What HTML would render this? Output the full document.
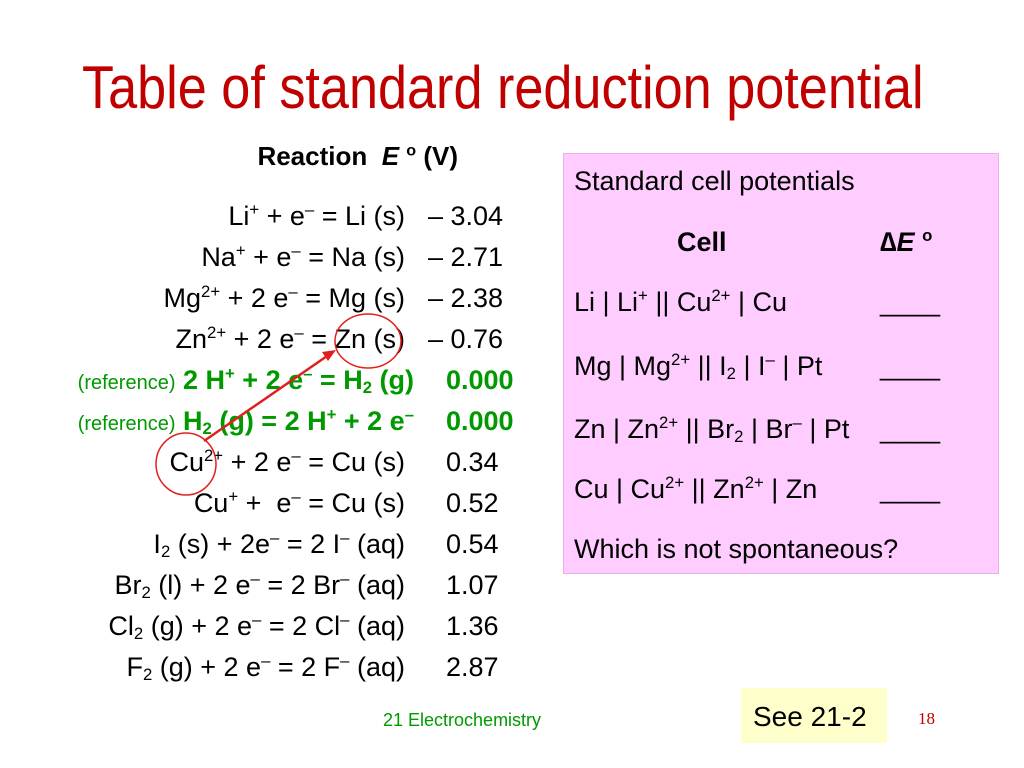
<!DOCTYPE html>
<html><head><meta charset="utf-8"><style>
body{margin:0;width:1024px;height:768px;background:#fff;position:relative;overflow:hidden;font-family:"Liberation Sans",sans-serif}
.a{position:absolute;white-space:nowrap;line-height:1}
.r{transform:scaleX(1.0);transform-origin:right center;text-align:right}
.l{transform:scaleX(1.0);transform-origin:left center}
sup{font-size:62%;vertical-align:0.6em;line-height:0}
sub{font-size:62%;vertical-align:-0.25em;line-height:0}
.row{font-size:27px;color:#000}
.g{color:#009900;font-weight:bold}
.ref{font-size:20px;color:#009900;font-weight:normal}
.bx{font-size:27px}
</style></head><body>
<div class="a" style="left:82px;top:58px;font-size:60px;color:#c00000;transform:scaleX(.87);transform-origin:left center">Table of standard reduction potential</div>
<div class="a r" style="right:566px;top:143px;font-size:26px;font-weight:bold">Reaction&nbsp; <i>E</i> <sup>o</sup> (V)</div>

<div>
<div class="a r row" style="right:619px;top:203px">Li<sup>+</sup> + e<sup>–</sup> = Li (s)</div><div class="a l row" style="left:428px;top:203px">– 3.04</div>
<div class="a r row" style="right:619px;top:244px">Na<sup>+</sup> + e<sup>–</sup> = Na (s)</div><div class="a l row" style="left:428px;top:244px">– 2.71</div>
<div class="a r row" style="right:619px;top:285px">Mg<sup>2+</sup> + 2 e<sup>–</sup> = Mg (s)</div><div class="a l row" style="left:428px;top:285px">– 2.38</div>
<div class="a r row" style="right:619px;top:326px">Zn<sup>2+</sup> + 2 e<sup>–</sup> = Zn (s)</div><div class="a l row" style="left:428px;top:326px">– 0.76</div>
<div class="a r row g" style="right:610px;top:367px"><span class="ref">(reference)</span> 2 H<sup>+</sup> + 2 e<sup>–</sup> = H<sub>2</sub> (g)</div><div class="a l row g" style="left:446px;top:367px">0.000</div>
<div class="a r row g" style="right:610px;top:408px"><span class="ref">(reference)</span> H<sub>2</sub> (g) = 2 H<sup>+</sup> + 2 e<sup>–</sup></div><div class="a l row g" style="left:446px;top:408px">0.000</div>
<div class="a r row" style="right:619px;top:449px">Cu<sup>2+</sup> + 2 e<sup>–</sup> = Cu (s)</div><div class="a l row" style="left:446px;top:449px">0.34</div>
<div class="a r row" style="right:619px;top:490px">Cu<sup>+</sup> +&nbsp; e<sup>–</sup> = Cu (s)</div><div class="a l row" style="left:446px;top:490px">0.52</div>
<div class="a r row" style="right:619px;top:531px">I<sub>2</sub> (s) + 2e<sup>–</sup> = 2 I<sup>–</sup> (aq)</div><div class="a l row" style="left:446px;top:531px">0.54</div>
<div class="a r row" style="right:619px;top:572px">Br<sub>2</sub> (l) + 2 e<sup>–</sup> = 2 Br<sup>–</sup> (aq)</div><div class="a l row" style="left:446px;top:572px">1.07</div>
<div class="a r row" style="right:619px;top:613px">Cl<sub>2</sub> (g) + 2 e<sup>–</sup> = 2 Cl<sup>–</sup> (aq)</div><div class="a l row" style="left:446px;top:613px">1.36</div>
<div class="a r row" style="right:619px;top:654px">F<sub>2</sub> (g) + 2 e<sup>–</sup> = 2 F<sup>–</sup> (aq)</div><div class="a l row" style="left:446px;top:654px">2.87</div>
</div>

<svg class="a" style="left:0;top:0" width="1024" height="768">
<ellipse cx="368" cy="341" rx="33" ry="27" fill="none" stroke="#e02020" stroke-width="1.5"/>
<ellipse cx="186" cy="464" rx="30" ry="31" fill="none" stroke="#e02020" stroke-width="1.5"/>
<line x1="204" y1="441" x2="330" y2="354" stroke="#e02020" stroke-width="2.5"/>
<polygon points="336,350 322,352 328,361" fill="#e02020"/>
</svg>

<div class="a" style="left:563px;top:153px;width:434px;height:419px;background:#ffccff;border:1px solid #e8b0e8"></div>
<div class="a l bx" style="left:574px;top:168px">Standard cell potentials</div>
<div class="a l bx" style="left:677px;top:229px;font-weight:bold">Cell</div>
<div class="a l bx" style="left:880px;top:229px;font-weight:bold">∆<i>E</i> <sup>o</sup></div>
<div class="a l bx" style="left:574px;top:289px">Li | Li<sup>+</sup> || Cu<sup>2+</sup> | Cu</div>
<div class="a l bx" style="left:574px;top:353px">Mg | Mg<sup>2+</sup> || I<sub>2</sub> | I<sup>–</sup> | Pt</div>
<div class="a l bx" style="left:574px;top:416px">Zn | Zn<sup>2+</sup> || Br<sub>2</sub> | Br<sup>–</sup> | Pt</div>
<div class="a l bx" style="left:574px;top:476px">Cu | Cu<sup>2+</sup> || Zn<sup>2+</sup> | Zn</div>
<div class="a l bx" style="left:880px;top:289px">____</div>
<div class="a l bx" style="left:880px;top:353px">____</div>
<div class="a l bx" style="left:880px;top:416px">____</div>
<div class="a l bx" style="left:880px;top:476px">____</div>
<div class="a l bx" style="left:574px;top:536px">Which is not spontaneous?</div>

<div class="a l" style="left:383px;top:711px;font-size:18px;color:#009900">21 Electrochemistry</div>
<div class="a" style="left:741px;top:688px;width:146px;height:55px;background:#ffffcc"></div>
<div class="a l" style="left:753px;top:703px;font-size:28px">See 21-2</div>
<div class="a" style="left:918px;top:710px;font-size:17px;color:#c00000;font-family:'Liberation Serif',serif">18</div>
</body></html>
